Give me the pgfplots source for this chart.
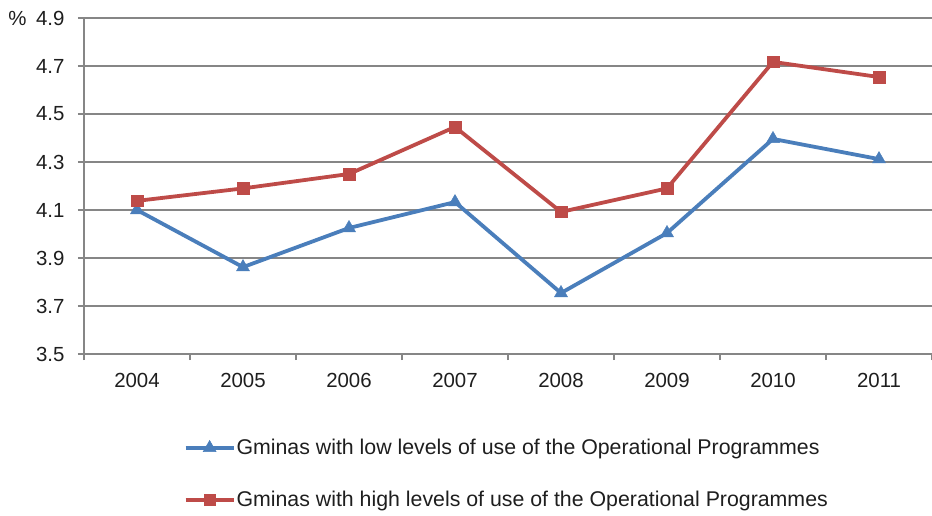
\documentclass[border=0pt]{standalone}
\usepackage{fontspec}
\setmainfont{Liberation Sans}
\usepackage{pgfplots}
\pgfplotsset{compat=1.18}
\definecolor{bl}{RGB}{74,126,187}
\definecolor{rd}{RGB}{190,75,72}
\definecolor{gr}{RGB}{134,134,134}
\definecolor{tx}{RGB}{30,30,30}
\begin{document}
\begin{tikzpicture}
\path[use as bounding box] (-84bp,-162bp) rectangle (848bp,354bp);
\begin{axis}[
  at={(0,0)}, anchor=south west,
  scale only axis, width=848bp, height=336bp,
  xmin=-0.5, xmax=7.5, ymin=3.5, ymax=4.9,
  axis x line*=bottom, axis y line*=left,
  axis line style={gr, line width=1.4bp, -},
  xtick={0,...,7},
  xticklabels={2004,2005,2006,2007,2008,2009,2010,2011},
  minor xtick={-0.5,0.5,...,7.5},
  major x tick style={draw=none},
  minor tick length=6bp,
  ytick={3.5,3.7,...,4.9},
  major tick length=6bp,
  tick align=outside,
  tick style={gr, line width=1.2bp},
  ymajorgrids, grid style={gr, line width=1.2bp},
  yticklabel style={/pgf/number format/fixed, /pgf/number format/fixed zerofill, /pgf/number format/precision=1, xshift=-10bp},
  xticklabel style={yshift=-10bp},
  /pgf/number format/assume math mode=true,
  ticklabel style={font=\fontsize{20.5}{24}\selectfont, text=tx},
  legend style={at={(0.498,-0.357)}, anchor=center, draw=none, fill=none,
    font=\fontsize{21.4}{24}\selectfont, text=tx, row sep=31bp,
    nodes={inner xsep=1bp},
    /tikz/every odd column/.append style={column sep=0bp},
    /tikz/every even column/.append style={column sep=0bp}},
  legend cell align=left,
  legend image code/.code={
    \draw[#1, mark=none] (0bp,0bp) -- (48bp,0bp);
    \draw[#1, only marks] plot coordinates {(24bp,0bp)};
  },
  clip=false,
]
\addplot[bl, line width=3.8bp, mark=triangle*, mark size=7.5bp, mark options={solid, line width=0.5bp}]
  coordinates {(0,4.100) (1,3.862) (2,4.025) (3,4.133) (4,3.754) (5,4.004) (6,4.396) (7,4.312)};
\addlegendentry{Gminas with low levels of use of the Operational Programmes}
\addplot[rd, line width=3.8bp, mark=square*, mark size=5.8bp, mark options={solid, line width=0.5bp}]
  coordinates {(0,4.138) (1,4.190) (2,4.250) (3,4.446) (4,4.092) (5,4.190) (6,4.717) (7,4.654)};
\addlegendentry{Gminas with high levels of use of the Operational Programmes}
\node[anchor=east, font=\fontsize{20.5}{24}\selectfont, text=tx] at ([xshift=-54bp]rel axis cs:0,1) {\%};
\end{axis}
\end{tikzpicture}
\end{document}
